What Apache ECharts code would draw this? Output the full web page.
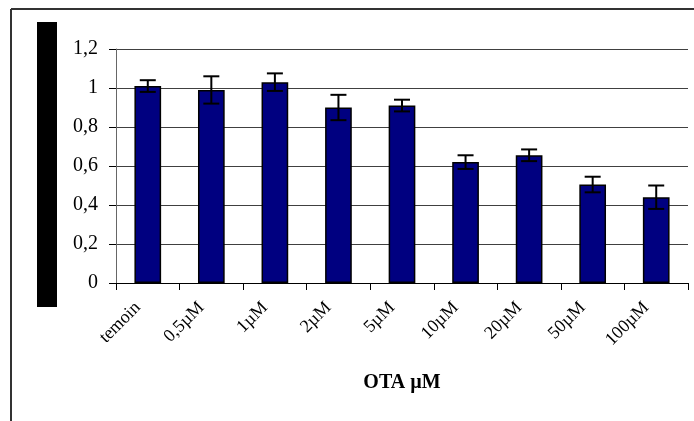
<!DOCTYPE html>
<html>
<head>
<meta charset="utf-8">
<script src="https://cdn.jsdelivr.net/npm/echarts@6/dist/echarts.min.js"></script>
<style>
  html, body { margin: 0; padding: 0; background: #fff; }
  #chart { width: 694px; height: 421px; }
</style>
</head>
<body>
<div id="chart"></div>
<script>
  //region    //data
  let categories = ['temoin', '0,5µM', '1µM', '2µM', '5µM', '10µM', '20µM', '50µM', '100µM'];
  let values = [1.01, 0.99, 1.03, 0.90, 0.91, 0.62, 0.655, 0.505, 0.44];
  let errors = [0.03, 0.07, 0.045, 0.065, 0.03, 0.035, 0.03, 0.04, 0.06];
  let yTicks = [0, 0.2, 0.4, 0.6, 0.8, 1, 1.2];
  //endregion

  let font = '"Liberation Serif", "Times New Roman", serif';
  let chart = echarts.init(document.getElementById('chart'));

  let errData = values.map((v, i) => [i, v - errors[i], v + errors[i]]);

  function renderErr(params, api) {
    let x = api.value(0);
    let lo = api.coord([x, api.value(1)]);
    let hi = api.coord([x, api.value(2)]);
    let half = 8;
    let style = {stroke: '#000', lineWidth: 2};
    return {
      type: 'group',
      children: [
        {type: 'line', shape: {x1: hi[0], y1: hi[1], x2: lo[0], y2: lo[1]}, style: style},
        {type: 'line', shape: {x1: hi[0] - half, y1: hi[1], x2: hi[0] + half, y2: hi[1]}, style: style},
        {type: 'line', shape: {x1: lo[0] - half, y1: lo[1], x2: lo[0] + half, y2: lo[1]}, style: style},
      ]
    };
  }

  let option = {
    animation: false,
    backgroundColor: '#fff',
    graphic: [
      // outer frame (top + left visible)
      {type: 'line', shape: {x1: 11, y1: 9, x2: 700, y2: 9}, style: {stroke: '#333', lineWidth: 2}},
      {type: 'line', shape: {x1: 11, y1: 9, x2: 11, y2: 430}, style: {stroke: '#333', lineWidth: 2}},
      // black block where the y title sits
      {type: 'rect', shape: {x: 37, y: 22, width: 20, height: 285}, style: {fill: '#000'}},
    ],
    grid: {left: 116, right: 6, top: 49, bottom: 138, containLabel: false},
    xAxis: {
      type: 'category',
      data: categories,
      name: 'OTA µM',
      nameLocation: 'middle',
      nameGap: 90,
      nameTextStyle: {fontFamily: font, fontSize: 20, fontWeight: 'bold', color: '#000', verticalAlign: 'top'},
      axisLine: {lineStyle: {color: '#000', width: 1}},
      axisTick: {show: true, alignWithLabel: false, length: 7, lineStyle: {color: '#000'}},
      axisLabel: {rotate: 45, fontFamily: font, fontSize: 18, color: '#000', margin: 12, interval: 0, padding: [0, 14, 0, 0]},
      splitLine: {show: false},
    },
    yAxis: {
      type: 'value',
      min: 0,
      max: 1.2,
      interval: 0.2,
      axisLine: {show: true, lineStyle: {color: '#666', width: 1}},
      axisTick: {show: true, length: 7, inside: false, lineStyle: {color: '#000'}},
      axisLabel: {
        fontFamily: font, fontSize: 20, color: '#000', margin: 18,
        formatter: v => {
          let t = yTicks.find(y => Math.abs(y - v) < 1e-6);
          return String(t === undefined ? v : t).replace('.', ',');
        }
      },
      splitLine: {show: true, lineStyle: {color: '#404040', width: 1}},
    },
    series: [
      {
        type: 'bar',
        data: values,
        barWidth: '42%',
        itemStyle: {color: '#000080', borderColor: '#000', borderWidth: 1.5},
      },
      {
        type: 'custom',
        renderItem: renderErr,
        data: errData,
        encode: {x: 0, y: [1, 2]},
        z: 5,
      }
    ]
  };

  chart.setOption(option);
</script>
</body>
</html>
